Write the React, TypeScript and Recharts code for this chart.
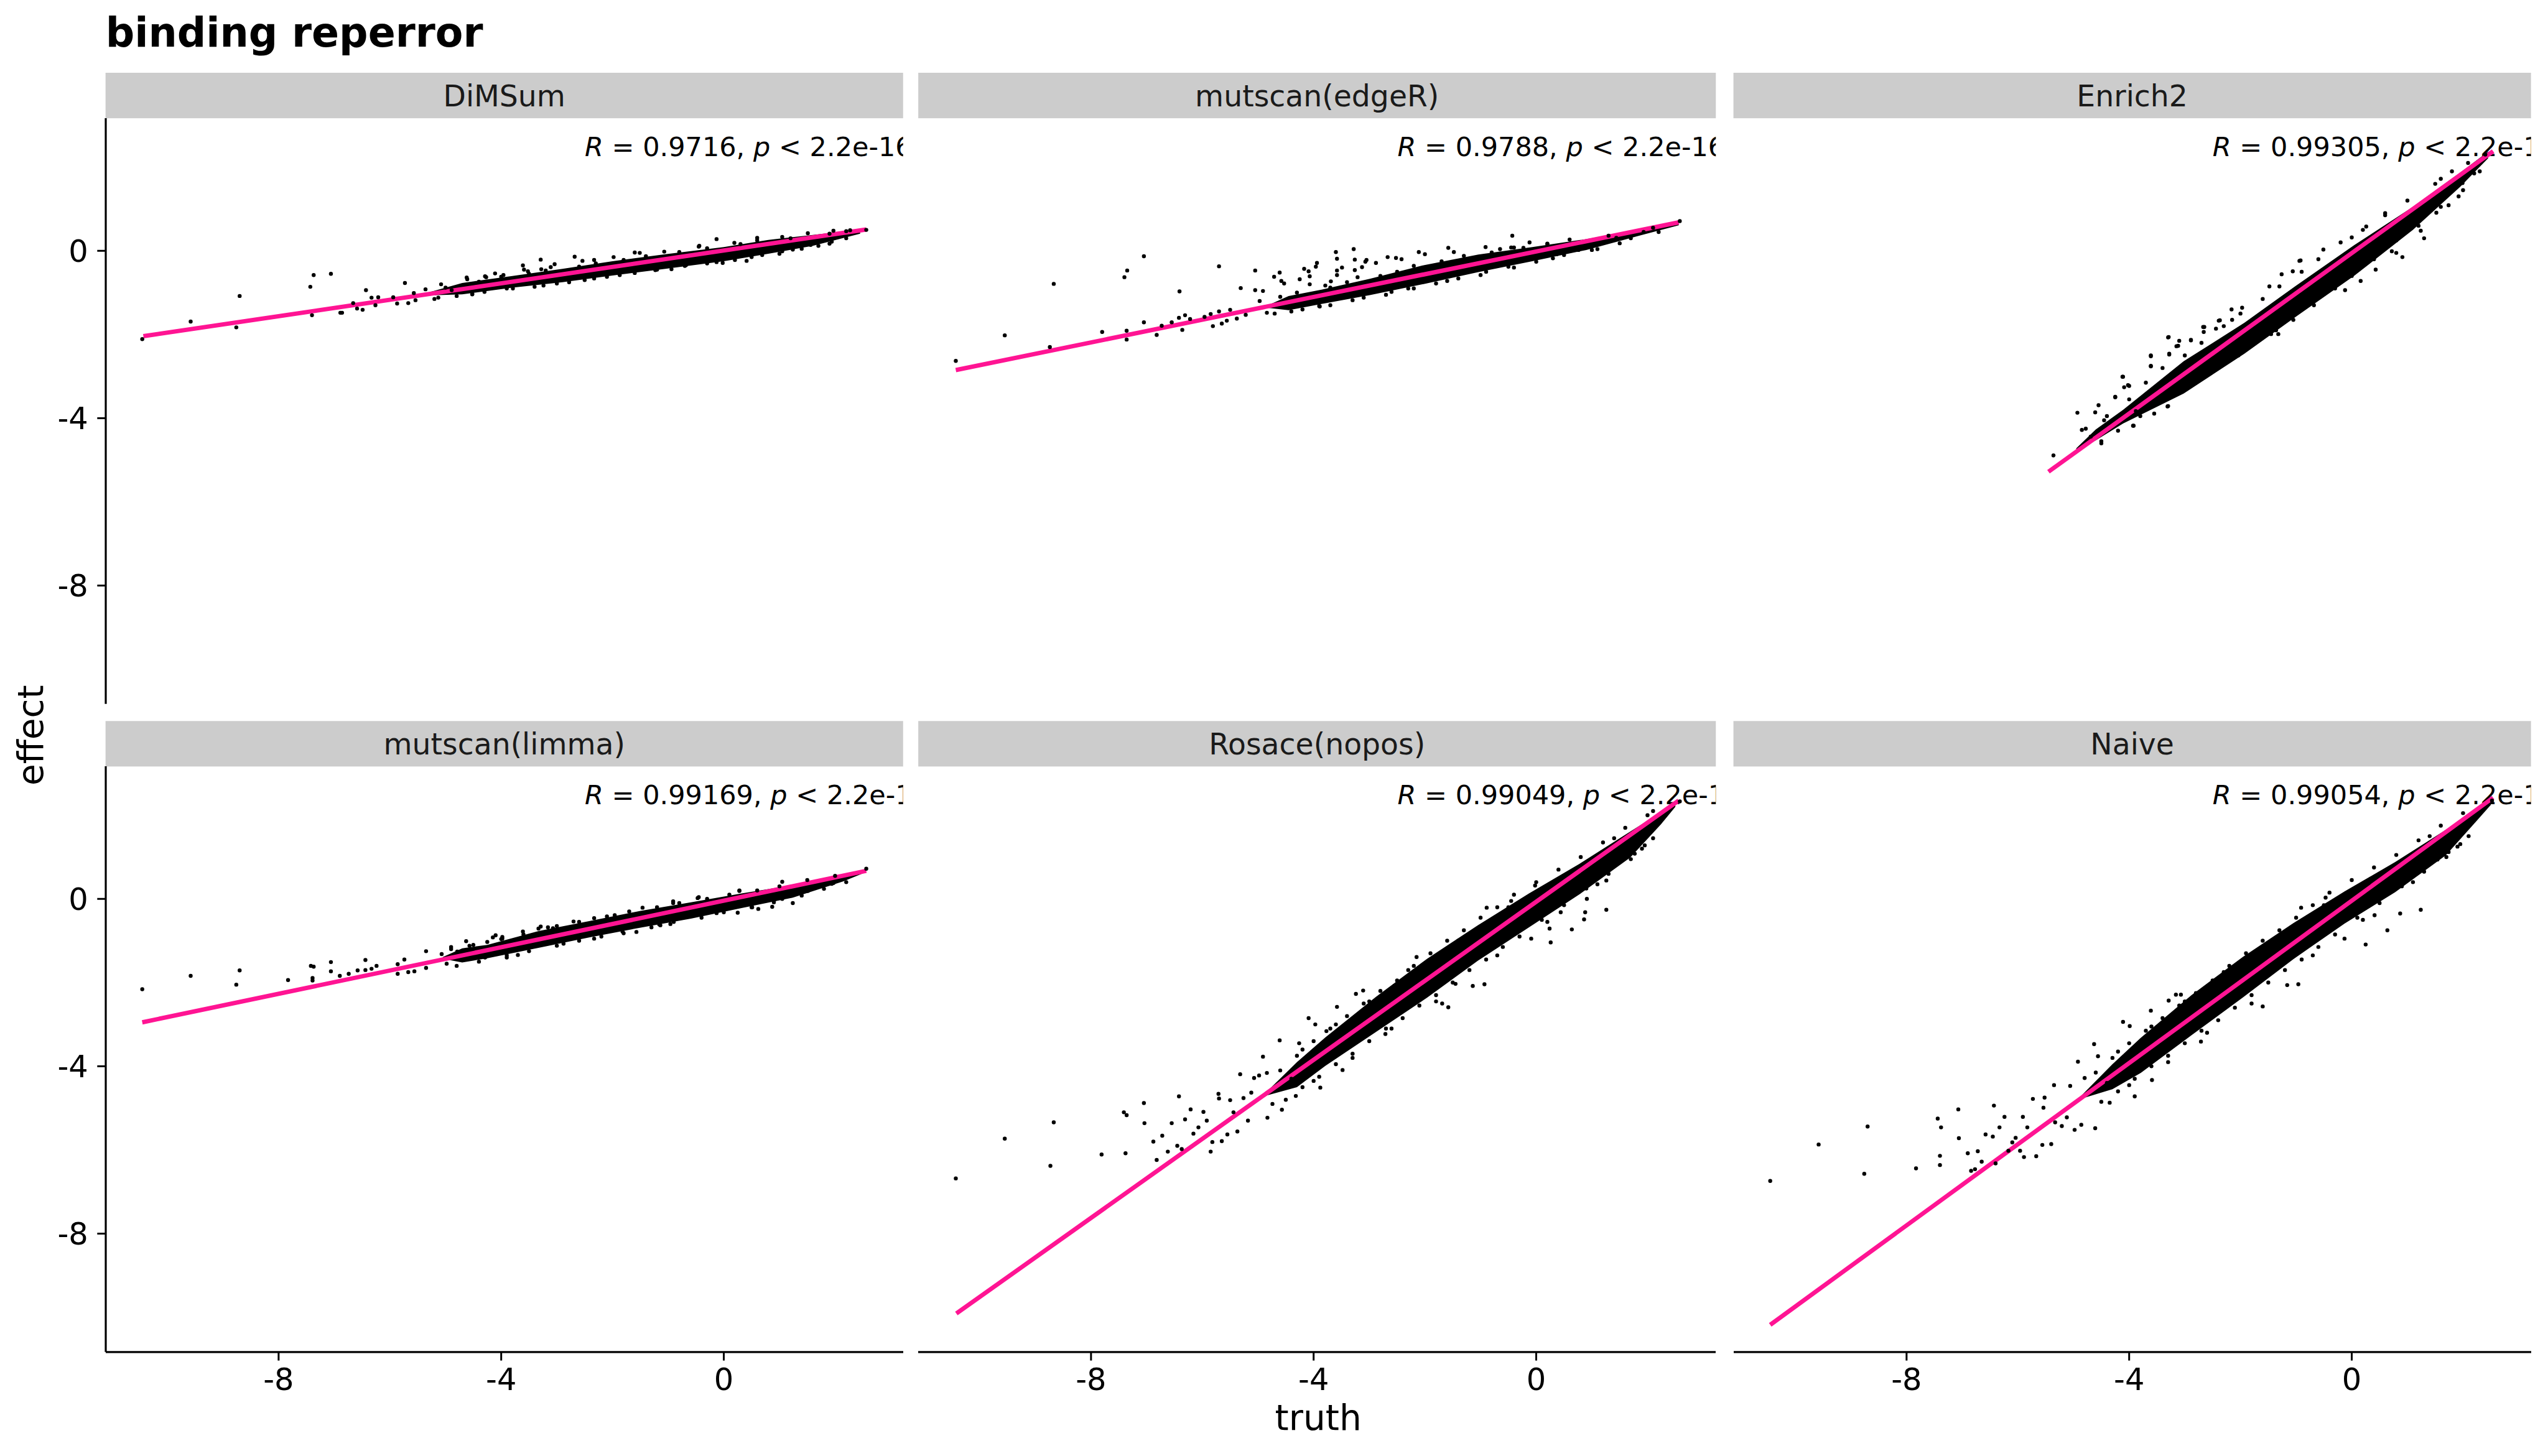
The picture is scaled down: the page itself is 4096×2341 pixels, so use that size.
import React from 'react';
import { ComposedChart, XAxis, YAxis, Scatter, Line, Area } from 'recharts';

const S = 0.975;
const FONT = '"DejaVu Sans", Verdana, sans-serif';

const X_DOMAIN: [number, number] = [-11.106, 3.226];
const Y_DOMAIN: [number, number] = [-10.83, 3.17];
const X_TICKS = [-8, -4, 0];
const Y_TICKS = [-8, -4, 0];

const methods = ['DiMSum', 'mutscan(edgeR)', 'Enrich2', 'mutscan(limma)', 'Rosace(nopos)', 'Naive'];
const corR = ['0.9716', '0.9788', '0.99305', '0.99169', '0.99049', '0.99054'];
const pText = '2.2e-16';

// fitted lines, end points [x, y]
const fitDiMSum = [[-10.43, -2.04], [2.56, 0.51]];
const fitEdgeR = [[-10.43, -2.85], [2.56, 0.68]];
const fitEnrich2 = [[-5.45, -5.28], [2.54, 2.38]];
const fitLimma = [[-10.45, -2.95], [2.56, 0.67]];
const fitRosace = [[-10.42, -9.91], [2.56, 2.35]];
const fitNaive = [[-10.45, -10.18], [2.54, 2.42]];

// solid core of each cloud [x, low, high]
const coreDiMSum = [
  [-5.4, -1.07, -1.03], [-4.7, -1.04, -0.77], [-3.8, -0.88, -0.6], [-2.9, -0.75, -0.43],
  [-2.0, -0.59, -0.25], [-1.05, -0.43, -0.08], [0, -0.25, 0.09], [0.8, -0.07, 0.26],
  [1.6, 0.12, 0.38], [2.45, 0.41, 0.51],
];
const coreEdgeR = [
  [-4.85, -1.36, -1.32], [-4.45, -1.42, -1.08], [-3.86, -1.27, -0.93], [-2.99, -1.06, -0.67],
  [-2.01, -0.79, -0.34], [-1.04, -0.51, -0.09], [-0.07, -0.25, 0.09], [0.9, 0.02, 0.28],
  [1.88, 0.37, 0.51], [2.56, 0.61, 0.69],
];
const coreEnrich2 = [
  [-4.95, -4.78, -4.72], [-4.6, -4.53, -4.27], [-4.11, -4.13, -3.8], [-3.02, -3.41, -2.64],
  [-1.93, -2.46, -1.72], [-1.02, -1.59, -0.85], [0.05, -0.59, 0.14], [1.1, 0.5, 1.05],
  [1.95, 1.53, 1.87], [2.45, 2.21, 2.37],
];
const coreLimma = [
  [-5.05, -1.43, -1.39], [-4.7, -1.52, -1.18], [-4.25, -1.42, -1.1], [-3.33, -1.17, -0.77],
  [-2.42, -0.92, -0.53], [-1.51, -0.69, -0.29], [-0.59, -0.47, -0.08], [0.32, -0.22, 0.13],
  [1.24, 0.03, 0.33], [2.15, 0.42, 0.59], [2.5, 0.61, 0.68],
];
const coreRosace = [
  [-4.85, -4.7, -4.62], [-4.3, -4.5, -3.9], [-3.79, -3.99, -3.31], [-2.88, -3.18, -2.34],
  [-1.96, -2.36, -1.43], [-1.05, -1.48, -0.63], [-0.13, -0.68, 0.13], [0.78, 0.11, 0.84],
  [1.69, 0.99, 1.61], [2.24, 1.78, 2.07], [2.5, 2.2, 2.32],
];
const coreNaive = [
  [-4.85, -4.77, -4.69], [-4.3, -4.55, -3.95], [-3.79, -4.16, -3.32], [-2.88, -3.26, -2.3],
  [-1.96, -2.36, -1.39], [-1.05, -1.44, -0.58], [-0.13, -0.59, 0.18], [0.78, 0.16, 0.88],
  [1.69, 1.04, 1.65], [2.24, 1.86, 2.13], [2.5, 2.25, 2.38],
];

// individual points [x, y]
const ptsDiMSum = [
  [-10.45, -2.11], [-9.58, -1.69], [-8.76, -1.83], [-8.7, -1.08], [-7.43, -0.86], [-7.37, -0.58],
  [-7.06, -0.55], [-7.4, -1.54], [-6.89, -1.48], [-6.86, -1.48], [-6.66, -1.25], [-6.59, -1.38],
  [-6.49, -1.41], [-6.43, -0.94], [-6.33, -1.12], [-6.21, -1.11], [-6.26, -1.3], [-5.94, -1.11],
  [-5.87, -1.26], [-5.73, -0.77], [-5.67, -1.25], [-5.57, -1.01], [-5.54, -1.18], [-5.36, -0.92],
  [-5.08, -0.8], [-5.13, -1.12], [-4.89, -0.94], [-4.62, -0.64], [-4.52, -1.04], [-4.27, -0.63],
  [-4.11, -0.54], [-3.96, -0.58], [-3.61, -0.35], [-3.59, -0.45], [-3.29, -0.21], [-3.28, -0.44],
  [-3.04, -0.32], [-2.68, -0.14], [-2.54, -0.24], [-1.98, -0.15], [-1.6, -0.04], [-1.07, -0.02],
  [-0.94, -0.44], [-0.44, 0.12], [-0.02, -0.29], [0.41, -0.24], [-0.13, 0.28], [1.05, -0.01],
  [1.56, 0.14], [1.94, 0.22], [1.97, 0.48], [2.56, 0.5], [2.27, 0.49],
  [-4.29, -0.61], [-4.61, -0.68], [-3.52, -0.49], [-3.11, -0.39], [-2.33, -0.22], [-1.51, -0.05],
  [-0.45, 0.1], [0.19, 0.19], [0.6, 0.31], [1.05, 0.33], [1.51, 0.42],
  [-4.52, -1.03], [-3.79, -0.9], [-3.24, -0.83], [-2.78, -0.75], [-2.33, -0.66], [-1.87, -0.58],
  [-1.23, -0.46], [-0.68, -0.34], [-0.13, -0.27], [0.69, -0.1], [1.24, 0.03], [1.7, 0.12],
  [-5.0, -0.88], [-4.4, -0.74], [-4.0, -0.62], [-3.5, -0.55], [-3.2, -0.47], [-2.6, -0.38],
  [-2.3, -0.3], [-1.8, -0.22], [-1.4, -0.13], [-0.8, -0.03], [-0.3, 0.06], [0.3, 0.16],
  [0.6, 0.25], [1.2, 0.3], [1.9, 0.41], [2.2, 0.47],
  [-5.2, -1.15], [-4.8, -1.08], [-4.3, -0.98], [-3.9, -0.9], [-3.4, -0.86], [-3.0, -0.78],
  [-2.5, -0.7], [-2.1, -0.62], [-1.6, -0.53], [-1.2, -0.45], [-0.7, -0.36], [-0.3, -0.3],
  [0.2, -0.22], [0.5, -0.15], [1.0, -0.07], [1.4, 0.05], [1.9, 0.17], [2.2, 0.3],
];
const ptsEdgeR = [
  [-10.43, -2.63], [-9.55, -2.02], [-8.74, -2.3], [-8.67, -0.79], [-7.8, -1.94], [-7.4, -0.63],
  [-7.35, -0.47], [-7.36, -1.91], [-7.36, -2.12], [-7.05, -0.13], [-7.05, -1.71], [-6.82, -2.01],
  [-6.73, -1.79], [-6.55, -1.71], [-6.42, -1.6], [-6.41, -0.97], [-6.36, -1.89], [-6.31, -1.54],
  [-6.22, -1.63], [-5.96, -1.58], [-5.85, -1.51], [-5.81, -1.8], [-5.7, -0.37], [-5.7, -1.45],
  [-5.65, -1.74], [-5.56, -1.67], [-5.5, -1.41], [-5.38, -1.62], [-5.31, -0.89], [-5.22, -1.53],
  [-5.05, -0.47], [-5.05, -0.94], [-4.97, -1.2], [-4.91, -0.96], [-4.84, -1.48], [-4.71, -0.62],
  [-4.61, -0.52], [-4.58, -0.72], [-4.53, -0.78], [-4.25, -0.68], [-4.17, -0.43], [-4.09, -0.49],
  [-4.07, -0.8], [-4.07, -0.61], [-3.94, -0.29], [-3.96, -0.38], [-3.89, -1.33], [-3.79, -0.83],
  [-3.69, -0.73], [-3.6, -0.03], [-3.58, -0.19], [-3.58, -0.47], [-3.58, -0.58], [-3.49, -0.4],
  [-3.28, 0.04], [-3.26, -0.21], [-3.26, -0.46], [-3.21, -0.63], [-3.13, -0.39], [-3.07, -0.26],
  [-3.05, -0.22], [-2.88, -0.29], [-2.67, -0.15], [-2.52, -0.17], [-2.42, -0.2], [-2.11, -0.03],
  [-2.0, -0.08], [-1.58, 0.07], [-1.48, -0.03], [-0.91, 0.09], [-0.65, 0.04], [-0.45, 0.08],
  [-0.43, 0.36], [-0.12, 0.2], [0.2, 0.17], [-0.23, 0.07], [0.76, 0.02], [0.37, -0.08],
  [1.44, 0.31], [1.93, 0.45], [2.58, 0.71],
  [-4.4, -1.45], [-3.9, -1.32], [-3.3, -1.18], [-2.7, -1.05], [-2.2, -0.9], [-1.6, -0.72],
  [-1.0, -0.58], [-0.4, -0.4], [0.3, -0.18], [1.1, 0.04], [1.7, 0.3],
  [-4.6, -1.1], [-4.3, -1.0], [-3.7, -0.88], [-3.4, -0.75], [-2.8, -0.6], [-2.5, -0.5],
  [-2.2, -0.36], [-1.7, -0.25], [-1.3, -0.12], [-0.8, -0.04], [-0.4, 0.08], [0.2, 0.16],
  [0.6, 0.27], [1.3, 0.36], [2.1, 0.55],
  [-4.7, -1.5], [-4.2, -1.4], [-3.7, -1.3], [-3.1, -1.12], [-2.6, -0.98], [-2.3, -0.9],
  [-1.8, -0.78], [-1.4, -0.66], [-0.9, -0.5], [-0.5, -0.38], [0.0, -0.26], [0.5, -0.1],
  [1.0, 0.02], [1.5, 0.18], [2.2, 0.45],
];
const ptsEnrich2 = [
  [-5.36, -4.89], [-4.93, -3.87], [-4.85, -4.28], [-4.78, -4.25], [-4.69, -4.44], [-4.55, -3.69],
  [-4.5, -4.55], [-4.45, -4.05], [-4.25, -3.5], [-4.11, -3.01], [-4.02, -3.21], [-3.93, -4.18],
  [-3.88, -3.83], [-3.61, -2.5], [-3.61, -2.75], [-3.55, -3.89], [-3.29, -2.06], [-3.28, -2.46],
  [-3.31, -3.72], [-3.12, -2.27], [-2.89, -2.13], [-2.65, -1.82], [-2.55, -2.85], [-2.37, -1.66],
  [-2.04, -2.5], [-1.85, -2.28], [-1.6, -1.95], [-1.45, -1.99], [-1.48, -0.85], [-1.06, -0.49],
  [-1.06, -1.52], [-0.92, -0.23], [-0.68, -1.3], [-0.51, 0.03], [-0.12, -0.94], [0.16, -0.72],
  [0.26, 0.58], [0.43, -0.45], [0.72, -0.01], [0.91, -0.15], [1.24, 0.48], [1.38, 0.97],
  [1.52, 0.91], [1.74, 1.09], [1.92, 1.3], [1.99, 1.62], [2.09, 2.1],
  [-4.61, -3.86], [-4.25, -3.49], [-4.12, -3.01], [-4.09, -3.26], [-4.0, -3.23], [-3.92, -4.18],
  [-3.61, -2.52], [-3.61, -2.76], [-3.3, -2.07], [-3.28, -2.48], [-3.3, -3.71], [-3.1, -2.15],
  [-3.15, -2.28], [-2.89, -2.14], [-2.67, -1.82], [-2.66, -1.94], [-2.44, -1.86], [-2.39, -1.67],
  [-2.16, -1.4], [-2.15, -1.65], [-1.97, -1.36], [-1.86, -2.31], [-2.08, -2.48], [-2.03, -2.48],
  [-1.5, -1.96], [-1.32, -1.99], [-1.36, -1.9], [-1.26, -0.56], [-0.94, -0.24],
  [-1.05, -1.65], [-0.3, -0.9], [0.0, 0.32], [0.6, 0.9], [0.8, -0.05], [1.3, 0.3], [1.6, 1.72],
  [2.2, 1.85], [2.4, 2.3],
  [-4.4, -3.95], [-4.0, -3.55], [-3.7, -3.15], [-3.4, -2.8], [-3.0, -2.5], [-2.7, -2.2],
  [-2.3, -1.8], [-2.0, -1.5], [-1.6, -1.15], [-1.3, -0.85], [-0.9, -0.5], [-0.6, -0.2],
  [-0.2, 0.2], [0.2, 0.5], [0.6, 0.85], [1.0, 1.2], [1.5, 1.6], [1.8, 1.9],
  [-4.5, -4.6], [-4.2, -4.3], [-3.8, -3.95], [-3.4, -3.6], [-3.1, -3.35], [-2.8, -3.05],
  [-2.4, -2.7], [-2.1, -2.45], [-1.7, -2.05], [-1.4, -1.8], [-1.0, -1.45], [-0.7, -1.15],
  [-0.3, -0.8], [0.0, -0.6], [0.4, -0.2], [0.8, 0.25], [1.2, 0.6], [1.6, 1.05], [2.0, 1.45],
  [2.3, 1.9],
];
const ptsLimma = [
  [-10.45, -2.16], [-9.58, -1.84], [-8.76, -2.05], [-8.7, -1.71], [-7.83, -1.94], [-7.42, -1.6],
  [-7.37, -1.62], [-7.39, -1.89], [-7.39, -1.95], [-7.06, -1.51], [-7.06, -1.73], [-6.9, -1.84],
  [-6.74, -1.79], [-6.58, -1.71], [-6.44, -1.46], [-6.44, -1.7], [-6.33, -1.67], [-6.24, -1.6],
  [-5.86, -1.79], [-5.86, -1.56], [-5.74, -1.45], [-5.67, -1.75], [-5.56, -1.73], [-5.35, -1.25],
  [-5.35, -1.65], [-5.07, -1.32], [-4.98, -1.55], [-4.9, -1.15], [-4.79, -1.26], [-4.63, -1.01],
  [-4.57, -1.12], [-4.29, -1.4], [-4.25, -1.03], [-4.1, -0.87], [-3.98, -0.95], [-3.9, -1.35],
  [-3.61, -0.78], [-3.29, -0.66], [-3.16, -0.68], [-3.07, -0.7], [-1.57, -0.79], [-1.42, -0.6],
  [-1.16, -0.61], [-0.96, -0.6], [-0.91, -0.06], [-0.47, 0.02], [-0.13, -0.29], [0.25, -0.33],
  [0.62, -0.24], [0.87, -0.19], [1.24, -0.1], [0.91, -0.02], [1.67, 0.31], [1.94, 0.36],
  [2.56, 0.72], [0.28, 0.2],
  [-4.15, -0.92], [-3.98, -0.91], [-3.33, -0.71], [-2.7, -0.54], [-2.33, -0.46], [-1.96, -0.39],
  [-1.46, -0.21], [-0.91, -0.1], [-0.45, 0.04], [0.28, 0.19], [1.05, 0.41],
  [-3.7, -1.34], [-2.88, -1.07], [-2.33, -0.95], [-1.82, -0.78], [-1.14, -0.63], [-0.68, -0.44],
  [-0.13, -0.34], [0.51, -0.2], [1.05, 0.0], [1.51, 0.19], [1.97, 0.38],
  [-4.9, -1.2], [-4.5, -1.1], [-4.0, -0.96], [-3.6, -0.85], [-3.0, -0.65], [-2.6, -0.55],
  [-2.1, -0.42], [-1.7, -0.3], [-1.2, -0.2], [-0.8, -0.1], [-0.3, 0.0], [0.1, 0.1],
  [0.6, 0.2], [1.0, 0.3], [1.5, 0.45], [2.0, 0.55],
  [-4.8, -1.6], [-4.4, -1.5], [-3.9, -1.4], [-3.5, -1.25], [-3.0, -1.12], [-2.6, -1.0],
  [-2.2, -0.9], [-1.8, -0.82], [-1.3, -0.68], [-0.9, -0.55], [-0.4, -0.45], [0.0, -0.32],
  [0.5, -0.2], [0.9, -0.08], [1.4, 0.08], [1.8, 0.24], [2.2, 0.4],
];
const ptsRosace = [
  [-10.43, -6.68], [-9.55, -5.73], [-8.73, -6.38], [-8.67, -5.34], [-7.81, -6.11], [-7.41, -5.1],
  [-7.36, -5.17], [-7.38, -6.08], [-7.05, -4.88], [-7.04, -5.36], [-6.88, -5.8], [-6.82, -6.24],
  [-6.72, -5.66], [-6.62, -6.04], [-6.55, -5.36], [-6.45, -5.9], [-6.42, -4.72], [-6.37, -5.98],
  [-6.31, -5.27], [-6.21, -5.03], [-6.16, -5.61], [-6.07, -5.46], [-5.98, -5.09], [-5.92, -5.3],
  [-5.85, -6.04], [-5.82, -5.81], [-5.71, -4.66], [-5.7, -4.77], [-5.65, -5.79], [-5.55, -5.63],
  [-5.5, -4.81], [-5.44, -5.1], [-5.37, -5.56], [-5.32, -4.19], [-5.26, -4.76], [-5.18, -5.3],
  [-5.12, -4.63], [-5.07, -4.28], [-4.98, -4.22], [-4.91, -3.77], [-4.83, -5.23], [-4.84, -4.16],
  [-4.74, -4.9], [-4.61, -3.38], [-4.57, -5.04], [-4.32, -4.71], [-4.26, -3.45], [-4.09, -2.85],
  [-3.97, -3.0], [-3.88, -4.51], [-3.77, -3.16], [-3.58, -2.58], [-3.48, -4.09], [-3.24, -2.27],
  [-3.11, -2.19], [-2.71, -3.23], [-2.55, -2.08], [-2.15, -1.39], [-1.69, -2.5], [-1.58, -2.59],
  [-1.45, -2.03], [-1.14, -2.08], [-0.93, -2.04], [-0.89, -0.21], [-0.45, -0.05], [-0.09, -0.95],
  [-0.02, 0.32], [0.26, -1.04], [0.24, -0.71], [0.44, -0.32], [0.64, -0.73], [0.86, -0.49],
  [0.88, -0.32], [0.91, 0.0], [1.26, -0.26], [1.26, 0.44], [1.54, 0.93], [1.77, 1.08],
  [1.95, 1.28], [2.01, 1.64], [2.1, 2.1], [2.58, 2.33],
  [-4.4, -4.3], [-4.2, -3.6], [-4.0, -4.35], [-3.6, -3.0], [-3.3, -3.8], [-3.0, -2.45],
  [-2.6, -3.1], [-2.3, -1.7], [-1.8, -2.45], [-1.4, -1.0], [-0.7, -1.35], [-0.5, -0.2],
  [0.2, -0.55], [0.5, 0.55], [1.1, 0.35], [1.4, 1.45], [1.9, 1.2],
  [-4.6, -4.1], [-4.3, -3.75], [-4.0, -3.4], [-3.7, -3.1], [-3.4, -2.8], [-3.1, -2.5],
  [-2.8, -2.2], [-2.5, -1.95], [-2.2, -1.6], [-1.9, -1.3], [-1.6, -1.0], [-1.3, -0.75],
  [-1.0, -0.45], [-0.7, -0.2], [-0.4, 0.1], [0.0, 0.4], [0.4, 0.7], [0.8, 1.0], [1.2, 1.35],
  [1.6, 1.7], [2.0, 2.0],
  [-4.5, -4.8], [-4.2, -4.5], [-3.9, -4.25], [-3.6, -3.95], [-3.3, -3.7], [-3.0, -3.4],
  [-2.7, -3.1], [-2.4, -2.85], [-2.1, -2.55], [-1.8, -2.3], [-1.5, -2.0], [-1.2, -1.7],
  [-0.9, -1.45], [-0.6, -1.15], [-0.3, -0.9], [0.1, -0.5], [0.5, -0.15], [0.9, 0.25],
  [1.3, 0.6], [1.7, 0.95], [2.1, 1.45],
];
const ptsNaive = [
  [-10.45, -6.74], [-9.58, -5.87], [-8.76, -6.57], [-8.7, -5.44], [-7.83, -6.44], [-7.44, -5.25],
  [-7.38, -5.46], [-7.4, -6.14], [-7.4, -6.36], [-7.07, -5.03], [-7.06, -5.72], [-6.9, -6.08],
  [-6.84, -6.5], [-6.77, -6.46], [-6.72, -6.03], [-6.65, -6.28], [-6.58, -5.63], [-6.45, -5.68],
  [-6.43, -4.94], [-6.4, -6.32], [-6.33, -5.46], [-6.24, -5.21], [-6.17, -6.02], [-6.1, -5.82],
  [-6.04, -5.71], [-5.96, -6.02], [-5.91, -5.21], [-5.89, -6.17], [-5.83, -5.46], [-5.73, -4.78],
  [-5.67, -6.15], [-5.56, -5.88], [-5.54, -4.99], [-5.52, -4.75], [-5.4, -5.86], [-5.35, -4.45],
  [-5.33, -5.34], [-5.21, -5.43], [-5.12, -5.22], [-5.06, -4.47], [-4.98, -5.52], [-4.86, -5.4],
  [-4.92, -3.89], [-4.8, -4.28], [-4.61, -5.48], [-4.63, -3.47], [-4.56, -3.76], [-4.35, -4.87],
  [-4.11, -2.94], [-3.99, -3.04], [-3.9, -4.72], [-3.61, -2.67], [-3.59, -4.33], [-3.29, -2.43],
  [-3.16, -2.29], [-3.07, -2.29], [-2.71, -3.41], [-2.54, -2.18], [-1.6, -2.57], [-1.16, -2.06],
  [-0.96, -2.04], [-0.91, -0.21], [-0.47, 0.03], [-0.13, -0.95], [0.25, -1.09], [0.41, -0.39],
  [0.64, -0.75], [0.87, -0.35], [1.24, -0.26], [1.54, 0.94], [1.74, 1.12], [1.95, 1.31],
  [1.99, 1.67], [2.52, 2.35],
  [-4.4, -4.4], [-4.2, -3.65], [-4.0, -4.45], [-3.6, -3.05], [-3.3, -3.9], [-3.0, -2.45],
  [-2.6, -3.2], [-2.3, -1.75], [-1.8, -2.5], [-1.4, -1.0], [-0.7, -1.35], [-0.5, -0.15],
  [0.2, -0.5], [0.5, 0.6], [1.1, 0.4], [1.4, 1.5], [1.9, 1.25],
  [-4.6, -4.15], [-4.3, -3.8], [-4.0, -3.45], [-3.7, -3.15], [-3.4, -2.85], [-3.1, -2.55],
  [-2.8, -2.25], [-2.5, -1.95], [-2.2, -1.6], [-1.9, -1.3], [-1.6, -1.0], [-1.3, -0.75],
  [-1.0, -0.45], [-0.7, -0.15], [-0.4, 0.15], [0.0, 0.45], [0.4, 0.75], [0.8, 1.05],
  [1.2, 1.4], [1.6, 1.75], [2.0, 2.05],
  [-4.5, -4.85], [-4.2, -4.6], [-3.9, -4.3], [-3.6, -4.0], [-3.3, -3.75], [-3.0, -3.45],
  [-2.7, -3.15], [-2.4, -2.9], [-2.1, -2.6], [-1.8, -2.3], [-1.5, -2.0], [-1.2, -1.7],
  [-0.9, -1.45], [-0.6, -1.15], [-0.3, -0.85], [0.1, -0.45], [0.5, -0.1], [0.9, 0.3],
  [1.3, 0.65], [1.7, 1.0], [2.1, 1.5],
];

const fits = [fitDiMSum, fitEdgeR, fitEnrich2, fitLimma, fitRosace, fitNaive];
const cores = [coreDiMSum, coreEdgeR, coreEnrich2, coreLimma, coreRosace, coreNaive];
const points = [ptsDiMSum, ptsEdgeR, ptsEnrich2, ptsLimma, ptsRosace, ptsNaive];

// layout in window pixels
const W = 4096;
const H = 2341;
const COL_LEFT = [174 * S, 1514 * S, 2858 * S];
const ROW_TOP = [195 * S, 1264 * S];
const PW = 1315 * S;
const PH = 966 * S;
const STRIP_H = 75 * S;
const Y_AXIS_W = 120;
const X_AXIS_H = 80;
const AXIS_W = 3.2;

const dot = (p: any) => <circle cx={p.cx} cy={p.cy} r={3.2} fill="#000" />;

function Panel({ idx }: { idx: number }) {
  const col = idx % 3;
  const row = Math.floor(idx / 3);
  const showY = col === 0;
  const showX = row === 1;
  const w = PW + (showY ? Y_AXIS_W : 0);
  const h = PH + (showX ? X_AXIS_H : 0);
  const fit = fits[idx].map(([x, y]) => ({ x, y }));
  const core = cores[idx].map(([x, lo, hi]) => ({ x, band: [lo, hi] }));
  const pts = points[idx].map(([x, y]) => ({ x, y }));
  return (
    <div
      style={{
        position: 'absolute',
        left: COL_LEFT[col] - (showY ? Y_AXIS_W : 0),
        top: ROW_TOP[row],
        width: w,
        height: h,
      }}
    >
      <ComposedChart width={w} height={h} margin={{ top: 0, right: 0, bottom: 0, left: 0 }}>
        <XAxis
          type="number"
          dataKey="x"
          domain={X_DOMAIN}
          ticks={X_TICKS}
          interval={0}
          allowDataOverflow
          hide={!showX}
          height={X_AXIS_H}
          axisLine={{ stroke: '#000', strokeWidth: AXIS_W }}
          tickLine={{ stroke: '#000', strokeWidth: 3 }}
          tickSize={13.7}
          tickMargin={12.6}
          tick={{ fill: '#000', fontSize: 49.5, fontFamily: FONT }}
        />
        <YAxis
          type="number"
          domain={Y_DOMAIN}
          ticks={Y_TICKS}
          interval={0}
          allowDataOverflow
          hide={!showY}
          width={Y_AXIS_W}
          axisLine={{ stroke: '#000', strokeWidth: AXIS_W }}
          tickLine={{ stroke: '#000', strokeWidth: 3 }}
          tickSize={13.7}
          tickMargin={14.5}
          tick={{ fill: '#000', fontSize: 49.5, fontFamily: FONT }}
        />
        <Area
          data={core}
          dataKey="band"
          type="linear"
          stroke="none"
          fill="#000"
          fillOpacity={1}
          isAnimationActive={false}
        />
        <Scatter data={pts} dataKey="y" shape={dot} isAnimationActive={false} />
        <Line
          data={fit}
          dataKey="y"
          type="linear"
          stroke="#FF1493"
          strokeWidth={7}
          dot={false}
          activeDot={false}
          isAnimationActive={false}
        />
      </ComposedChart>
    </div>
  );
}

export default function App() {
  const cells = methods.map((_, i) => i);
  return (
    <div style={{ position: 'absolute', left: 0, top: 0, width: W, height: H, background: '#fff', overflow: 'hidden' }}>
      <svg width={W} height={H} style={{ position: 'absolute', left: 0, top: 0 }} fontFamily={FONT}>
        <defs>
          {cells.map((i) => (
            <clipPath id={`clip${i}`} key={i}>
              <rect x={COL_LEFT[i % 3]} y={ROW_TOP[Math.floor(i / 3)]} width={PW} height={PH} />
            </clipPath>
          ))}
        </defs>
        <text x={174 * S} y={77 * S} fontSize={65} fontWeight="bold" fill="#000">
          binding reperror
        </text>
        {cells.map((i) => {
          const x0 = COL_LEFT[i % 3];
          const y0 = ROW_TOP[Math.floor(i / 3)];
          return (
            <g key={i}>
              <rect x={x0} y={y0 - STRIP_H} width={PW} height={STRIP_H} fill="#CCCCCC" />
              <text
                x={x0 + PW / 2}
                y={y0 - STRIP_H / 2}
                dy="0.36em"
                textAnchor="middle"
                fontSize={47.3}
                fill="#1A1A1A"
              >
                {methods[i]}
              </text>
              <text x={x0 + 790 * S} y={y0 + 62 * S} fontSize={43} fill="#000" clipPath={`url(#clip${i})`}>
                <tspan fontStyle="italic">R</tspan>
                {` = ${corR[i]}, `}
                <tspan fontStyle="italic">p</tspan>
                {` < ${pText}`}
              </text>
            </g>
          );
        })}
        <text x={(COL_LEFT[0] + COL_LEFT[2] + PW) / 2} y={2358 * S} textAnchor="middle" fontSize={56.5} fill="#000">
          truth
        </text>
        <text
          transform={`translate(${71 * S}, ${(ROW_TOP[0] + ROW_TOP[1] + PH) / 2}) rotate(-90)`}
          textAnchor="middle"
          fontSize={56.5}
          fill="#000"
        >
          effect
        </text>
      </svg>
      {cells.map((i) => (
        <Panel key={i} idx={i} />
      ))}
    </div>
  );
}
